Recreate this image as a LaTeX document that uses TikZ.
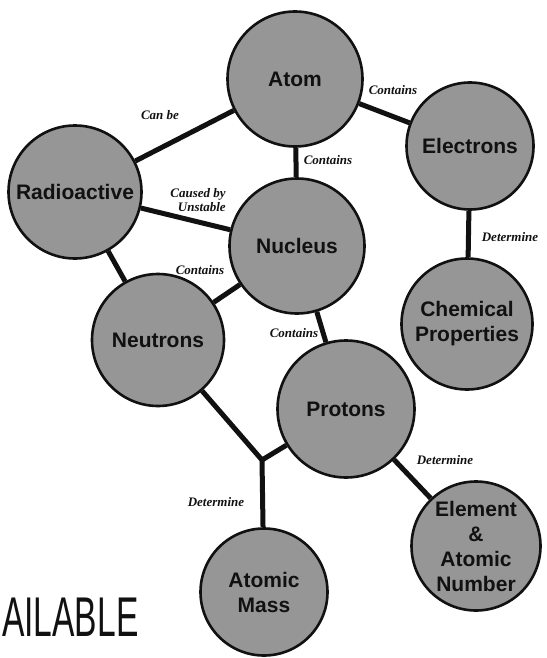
\documentclass[tikz,border=0pt]{standalone}
\usepackage{fontspec}
\setmainfont{Liberation Serif}
\setsansfont{Liberation Sans}
\usepackage{tikz}
\usetikzlibrary{positioning}
\definecolor{dotgrey}{HTML}{969696}
\definecolor{inkblack}{HTML}{111111}

\tikzset{
  concept/.style={circle, draw=inkblack, line width=2.6pt, fill=dotgrey,
    minimum size=#1, inner sep=0pt, align=center, text=inkblack,
    font=\sffamily\bfseries\fontsize{21}{25}\selectfont},
  concept/.default=134pt,
  link/.style={draw=inkblack, line width=5pt},
  linklabel/.style={font=\rmfamily\bfseries\itshape\fontsize{13}{13.5}\selectfont,
    text=inkblack, align=left, inner sep=1pt}
}

\begin{document}
\begin{tikzpicture}[x=1pt, y=-1pt]
  \useasboundingbox (0,0) rectangle (546,658);

  % concepts
  \node[concept=135pt] (atom)      at (295,79)  {Atom};
  \node[concept=127pt] (electrons) at (470,146) {Electrons};
  \node[concept=133pt] (radio)     at (75,192)  {Radioactive};
  \node[concept=135pt] (nucleus)   at (297,246) {Nucleus};
  \node[concept=132pt] (neutrons)  at (158,340) {Neutrons};
  \node[concept=131pt] (chem)      at (467,324) {Chemical\\Properties};
  \node[concept=137pt] (protons)   at (346,409) {Protons};
  \node[concept=129pt] (element)   at (476,546) {Element\\\&\\Atomic\\Number};
  \node[concept=127pt] (mass)      at (264,592) {Atomic\\Mass};
  \coordinate (fork) at (262,460);

  % links
  \foreach \a/\b in {atom/radio, atom/electrons, atom/nucleus, electrons/chem,
      radio/nucleus, radio/neutrons, neutrons/nucleus, nucleus/protons,
      protons/element}{
    \draw[link] (\a) -- (\b);
  }
  \draw[link, line join=miter] (neutrons) -- (fork) -- (protons);
  \draw[link] (fork) -- (mass);

  % link labels
  \node[linklabel] (lcanbe)   at (160,115) {Can be};
  \node[linklabel] (lcontA)   at (393,90)  {Contains};
  \node[linklabel] (lcontB)   at (328,160) {Contains};
  \node[linklabel, align=right] (lcaused) at (194,200) {Caused by\\\hspace*{1.2em}Unstable};
  \node[linklabel] (lcontC)   at (200,270) {Contains};
  \node[linklabel] (lcontD)   at (294,333) {Contains};
  \node[linklabel] (ldetA)    at (510,237) {Determine};
  \node[linklabel] (ldetB)    at (445,460) {Determine};
  \node[linklabel] (ldetC)    at (216,502) {Determine};

  \node[font=\sffamily\fontsize{56}{56}\selectfont, text=inkblack, xscale=0.6,
    anchor=west, inner sep=0pt] (stamp) at (2,617) {AILABLE};
\end{tikzpicture}
\end{document}
